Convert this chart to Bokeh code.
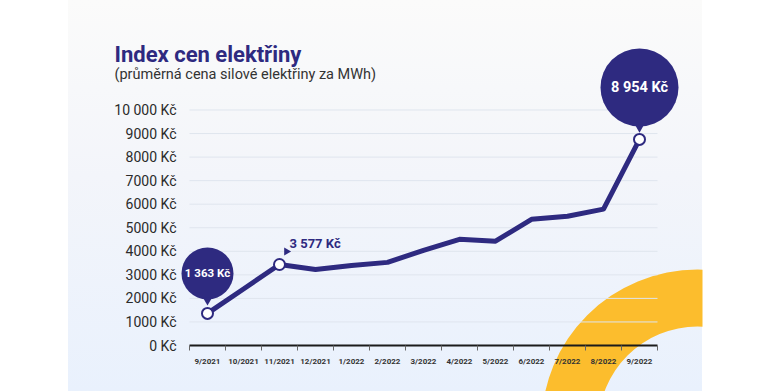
from bokeh.plotting import figure
from bokeh.models import Range1d, LinearAxis, FixedTicker, Label
from bokeh.core.properties import value
from bokeh.embed import file_html
from bokeh.resources import INLINE

# ---------------- data ----------------
months = ["9/2021", "10/2021", "11/2021", "12/2021", "1/2022", "2/2022", "3/2022",
          "4/2022", "5/2022", "6/2022", "7/2022", "8/2022", "9/2022"]
prices = [1363, 2400, 3440, 3230, 3400, 3530, 4040, 4510, 4430, 5360, 5490, 5790, 8750]
callout_idx = [0, 2, 12]
callout_text = ["1 363 Kč", "3 577 Kč", "8 954 Kč"]
y_ticks = [0, 1000, 2000, 3000, 4000, 5000, 6000, 7000, 8000, 9000, 10000]
y_tick_labels = ["0 Kč", "1000 Kč", "2000 Kč", "3000 Kč", "4000 Kč", "5000 Kč",
                 "6000 Kč", "7000 Kč", "8000 Kč", "9000 Kč", "10 000 Kč"]
title_text = "Index cen elektřiny"
subtitle_text = "(průměrná cena silové elektřiny za MWh)"

# ---------------- layout (pixels of the figure) ----------------
W, H = 770, 391
FRAME_L, FRAME_R, FRAME_T, FRAME_B = 68, 702, 0, 391
X0_PX, DX_PX = 207.0, 36.0          # centre of first month, px per month
Y0_PX, DY_PX = 345.0, 23.55 / 1000  # px of value 0, px per unit value

def xd(sx):
    return (sx - X0_PX) / DX_PX

def yd(sy):
    return (Y0_PX - sy) / DY_PX

INDIGO = "#2e2a80"
FONT = "Roboto"

p = figure(width=W, height=H,
           x_range=Range1d(xd(FRAME_L), xd(FRAME_R)),
           y_range=Range1d(yd(FRAME_B), yd(FRAME_T)),
           x_axis_type=None, y_axis_type=None,
           output_backend="svg", toolbar_location=None,
           min_border_left=FRAME_L, min_border_right=W - FRAME_R,
           min_border_top=0, min_border_bottom=0,
           border_fill_color=None, background_fill_color=None,
           outline_line_color=None)
p.styles = {"background": "linear-gradient(to right, #ffffff 0px, #ffffff 68px, "
                          "transparent 68px, transparent 702px, #ffffff 702px), "
                          "linear-gradient(to bottom, #fbfbfa 0%, #f3f5fa 45%, #e9f1fd 100%)"}
p.grid.visible = False

# decorative yellow ring
p.annulus(x=[xd(697)], y=[yd(425)], inner_radius=99, outer_radius=156,
          inner_radius_units="screen", outer_radius_units="screen",
          fill_color="#fcbd2d", line_color=None, level="underlay")

# gridlines
n = len(months)
p.segment(x0=[-0.5] * (len(y_ticks) - 1), x1=[n - 0.5] * (len(y_ticks) - 1),
          y0=y_ticks[1:], y1=y_ticks[1:], line_color="#dfe5ee", line_width=1)

# axes
xaxis = LinearAxis(fixed_location=0, bounds=(-0.5, n - 0.5),
                   ticker=FixedTicker(ticks=list(range(n)),
                                      minor_ticks=[i - 0.5 for i in range(n + 1)]),
                   major_label_overrides={i: m for i, m in enumerate(months)},
                   axis_line_color="#1b1b1b", axis_line_width=2,
                   major_tick_line_color=None, major_tick_out=0, major_tick_in=0,
                   minor_tick_line_color="#666666", minor_tick_out=5, minor_tick_in=0,
                   major_label_standoff=6,
                   major_label_text_font=FONT, major_label_text_font_size="8px",
                   major_label_text_font_style="bold", major_label_text_color="#333333")
p.add_layout(xaxis, "below")

yaxis = LinearAxis(fixed_location=-0.5, bounds=(0, 10000),
                   ticker=FixedTicker(ticks=y_ticks),
                   major_label_overrides=dict(zip(y_ticks, y_tick_labels)),
                   axis_line_color=None, major_tick_line_color=None,
                   minor_tick_line_color=None, major_tick_out=0, major_tick_in=0,
                   major_label_standoff=13,
                   major_label_text_font=FONT, major_label_text_font_size="14px",
                   major_label_text_color="#2b2b2b")
p.add_layout(yaxis, "left")

# main line
xs = list(range(n))
p.line(xs, prices, line_color=INDIGO, line_width=5, line_join="round")

cx = [xs[i] for i in callout_idx]
cy = [prices[i] for i in callout_idx]
p.scatter(cx, cy, size=11, marker="circle", fill_color="white",
          line_color=INDIGO, line_width=2)

# bubble callouts (first and last)
b_up = [40, 52]
b_rad = [26, 39]
p.circle([cx[0], cx[2]],
         [cy[0] + b_up[0] / DY_PX, cy[2] + b_up[1] / DY_PX],
         radius=b_rad, radius_units="screen", fill_color=INDIGO, line_color=None)
p.scatter([cx[0], cx[2]], [cy[0] + 13 / DY_PX, cy[2] + 12 / DY_PX],
          marker="inverted_triangle", size=9, fill_color=INDIGO, line_color=None)
p.text([cx[0]], [cy[0] + b_up[0] / DY_PX], text=[callout_text[0]],
       text_font=value(FONT), text_font_style="bold", text_font_size="11.5px",
       text_color="white", text_align="center", text_baseline="middle")
p.text([cx[2]], [cy[2] + b_up[1] / DY_PX], text=[callout_text[2]],
       text_font=value(FONT), text_font_style="bold", text_font_size="14.5px",
       text_color="white", text_align="center", text_baseline="middle")

# middle callout: arrow + text
p.scatter([cx[1] + 7 / DX_PX], [cy[1] + 13 / DY_PX], marker="triangle", angle=-1.5708,
          size=8, fill_color=INDIGO, line_color=None)
p.text([cx[1] + 10 / DX_PX], [cy[1] + 21 / DY_PX], text=[callout_text[1]],
       text_font=value(FONT), text_font_style="bold", text_font_size="13px",
       text_color=INDIGO, text_align="left", text_baseline="middle")

# titles
p.add_layout(Label(x=114 - FRAME_L, y=FRAME_B - 54, x_units="screen", y_units="screen",
                   text=title_text, text_font=FONT, text_font_style="bold",
                   text_font_size="22px", text_color=INDIGO, text_baseline="alphabetic"))
p.add_layout(Label(x=114 - FRAME_L, y=FRAME_B - 74, x_units="screen", y_units="screen",
                   text=subtitle_text, text_font=FONT,
                   text_font_size="14.5px", text_color="#333333", text_baseline="alphabetic"))

open("out.html", "w").write(file_html(p, INLINE))
